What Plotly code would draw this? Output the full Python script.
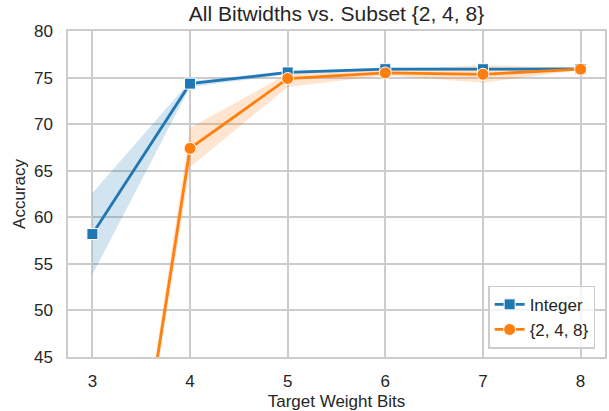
import plotly.graph_objects as go

bits = [3, 4, 5, 6, 7, 8]
int_mean = [58.2, 74.35, 75.55, 75.9, 75.9, 75.92]
int_lo = [53.85, 74.0, 75.35, 75.75, 75.75, 75.8]
int_hi = [62.6, 74.6, 75.7, 76.05, 76.05, 76.05]
sub_mean = [0.1, 67.4, 74.9, 75.5, 75.35, 75.9]
sub_lo = [0.1, 65.4, 74.0, 75.25, 74.45, 75.8]
sub_hi = [0.1, 69.6, 75.4, 75.75, 76.35, 76.0]

BLUE = "#1f77b4"
ORANGE = "#ff7f0e"
TXT = "#262626"
GRID = "#cccccc"
FONT = "Liberation Sans, Arial, sans-serif"

fig = go.Figure()

def band(lo, hi, fillcolor):
    fig.add_trace(go.Scatter(x=bits, y=lo, mode="lines", line=dict(width=0),
                             showlegend=False, hoverinfo="skip"))
    fig.add_trace(go.Scatter(x=bits, y=hi, mode="lines", line=dict(width=0),
                             fill="tonexty", fillcolor=fillcolor,
                             showlegend=False, hoverinfo="skip"))

band(int_lo, int_hi, "rgba(31,119,180,0.2)")
band(sub_lo, sub_hi, "rgba(255,127,14,0.2)")

fig.add_trace(go.Scatter(
    x=bits, y=int_mean, mode="lines+markers", name="Integer",
    line=dict(color=BLUE, width=2.8),
    marker=dict(symbol="square", size=11, color=BLUE, line=dict(color="white", width=1)),
))
fig.add_trace(go.Scatter(
    x=bits, y=sub_mean, mode="lines+markers", name="{2, 4, 8}",
    line=dict(color=ORANGE, width=2.8),
    marker=dict(symbol="circle", size=12, color=ORANGE, line=dict(color="white", width=1)),
))

fig.update_layout(
    width=609, height=411,
    margin=dict(l=68, r=2, t=31, b=54),
    paper_bgcolor="white", plot_bgcolor="white",
    font=dict(family=FONT, color=TXT, size=17),
    title=dict(text="All Bitwidths vs. Subset {2, 4, 8}", x=0.5, xref="paper",
               xanchor="center", y=0.968, yanchor="middle",
               font=dict(size=21, color=TXT)),
    legend=dict(x=0.982, y=0.026, xanchor="right", yanchor="bottom",
                traceorder="normal",
                bgcolor="rgba(255,255,255,0.8)", bordercolor=GRID, borderwidth=1.3,
                font=dict(size=17, color=TXT), tracegroupgap=2),
    showlegend=True,
)
fig.update_xaxes(
    range=[2.75, 8.25], tickvals=bits, ticktext=[str(b) for b in bits],
    showgrid=True, gridcolor=GRID, gridwidth=1.5,
    showline=True, linecolor=GRID, linewidth=1.5, mirror=True,
    zeroline=False, ticks="", ticklabelstandoff=8,
    tickfont=dict(size=17, color=TXT),
    title=dict(text="Target Weight Bits", font=dict(size=17, color=TXT), standoff=5),
)
fig.update_yaxes(
    range=[45, 80], tickvals=[45, 50, 55, 60, 65, 70, 75, 80],
    showgrid=True, gridcolor=GRID, gridwidth=1.5,
    showline=True, linecolor=GRID, linewidth=1.5, mirror=True,
    zeroline=False, ticks="", ticklabelstandoff=10,
    tickfont=dict(size=17, color=TXT),
    title=dict(text="Accuracy", font=dict(size=17, color=TXT), standoff=4),
)

fig.write_html("out.html")
